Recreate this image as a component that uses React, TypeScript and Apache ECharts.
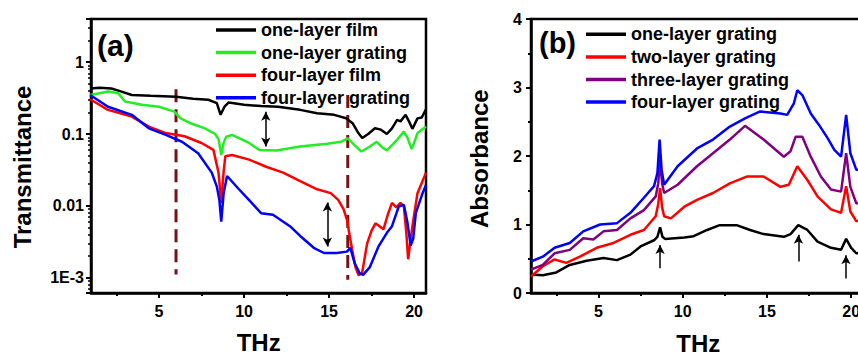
import React, { useEffect, useRef } from "react";
import * as echarts from "echarts";

const FONT = '"Liberation Sans", Arial, Helvetica, sans-serif';

// ---------- Panel (a): transmittance ----------
const legendA = ["one-layer film", "one-layer grating", "four-layer film", "four-layer grating"];
const colorsA = ["#000000", "#22ee22", "#ff0000", "#0000ff"];

const oneLayerFilm: [number, number][] = [
  [0.95, 0.43], [1.5, 0.44], [2.2, 0.43], [2.8, 0.39], [3.4, 0.35], [4.5, 0.34], [6.0, 0.33],
  [7.0, 0.31], [7.9, 0.3], [8.4, 0.27], [8.62, 0.185], [8.85, 0.24], [9.1, 0.275], [10, 0.255],
  [11, 0.245], [12, 0.24], [13.3, 0.217], [14.3, 0.195], [15.3, 0.185], [16, 0.166], [16.4, 0.14],
  [16.7, 0.105], [16.95, 0.088], [17.3, 0.1], [17.7, 0.12], [18.05, 0.115], [18.4, 0.1], [18.7, 0.12],
  [19.0, 0.157], [19.2, 0.15], [19.5, 0.185], [19.7, 0.15], [19.9, 0.118], [20.2, 0.165], [20.45, 0.17],
  [20.7, 0.22],
];
const oneLayerGratingA: [number, number][] = [
  [0.95, 0.35], [1.5, 0.37], [2.0, 0.39], [2.6, 0.37], [3.0, 0.284], [4.0, 0.255], [5.0, 0.24],
  [5.9, 0.205], [6.25, 0.166], [6.9, 0.14], [7.7, 0.12], [8.3, 0.1], [8.5, 0.085], [8.66, 0.051],
  [8.8, 0.075], [8.95, 0.092], [9.3, 0.097], [10.3, 0.075], [10.9, 0.06], [11.9, 0.059], [13.3, 0.067],
  [14.9, 0.073], [15.7, 0.078], [16.1, 0.087], [16.5, 0.07], [16.9, 0.057], [17.4, 0.067], [17.8, 0.078],
  [18.1, 0.066], [18.4, 0.059], [18.7, 0.07], [19.0, 0.083], [19.4, 0.108], [19.6, 0.09], [19.85, 0.062],
  [20.0, 0.075], [20.2, 0.103], [20.7, 0.127],
];
const fourLayerFilm: [number, number][] = [
  [0.95, 0.305], [2.0, 0.217], [3.4, 0.175], [4.4, 0.127], [5.4, 0.103], [6.5, 0.093], [7.5, 0.075],
  [8.2, 0.06], [8.5, 0.029], [8.66, 0.011], [8.8, 0.03], [8.9, 0.049], [9.3, 0.051], [10.3, 0.044],
  [11.3, 0.035], [12.3, 0.029], [13.3, 0.022], [14.3, 0.017], [15.1, 0.015], [15.55, 0.012], [15.85, 0.009],
  [16.05, 0.0064], [16.35, 0.0025], [16.55, 0.0014], [16.74, 0.00108], [16.94, 0.00115], [17.24, 0.003],
  [17.5, 0.0045], [17.73, 0.0057], [18.2, 0.0047], [18.45, 0.0075], [18.7, 0.011], [18.95, 0.0095],
  [19.2, 0.011], [19.4, 0.0098], [19.55, 0.004], [19.65, 0.0018], [19.9, 0.0052], [20.2, 0.015], [20.7, 0.029],
];
const fourLayerGratingA: [number, number][] = [
  [0.95, 0.35], [2.0, 0.24], [3.4, 0.185], [4.4, 0.12], [5.4, 0.097], [6.35, 0.078], [7.3, 0.054],
  [8.1, 0.029], [8.4, 0.0185], [8.55, 0.012], [8.66, 0.006], [8.8, 0.015], [9.0, 0.026], [9.7, 0.017],
  [10.3, 0.012], [11.0, 0.0079], [11.7, 0.0075], [12.7, 0.0052], [13.3, 0.0038], [14.1, 0.0026],
  [14.7, 0.0022], [15.45, 0.0022], [16.05, 0.0023], [16.25, 0.0026], [16.5, 0.0016], [16.8, 0.00115],
  [17.0, 0.00109], [17.4, 0.0014], [17.9, 0.0027], [18.4, 0.0042], [18.7, 0.0052], [19.1, 0.0098],
  [19.4, 0.0103], [19.6, 0.006], [19.8, 0.0028], [19.95, 0.0035], [20.1, 0.0079], [20.5, 0.015], [20.7, 0.0195],
];
const cutLeft: [number, number][] = [[6.0, 0.42], [6.0, 0.0011]];
const cutRight: [number, number][] = [[16.1, 0.35], [16.1, 0.00093]];
const arrowsA: [number, number, number][] = [[11.28, 0.205, 0.067], [14.9, 0.0111, 0.0027]];
const yTickValuesA = [0.001, 0.01, 0.1, 1];
const yTickLabelsA = ["1E-3", "0.01", "0.1", "1"];

// ---------- Panel (b): absorbance ----------
const legendB = ["one-layer grating", "two-layer grating", "three-layer grating", "four-layer grating"];
const colorsB = ["#000000", "#ff0000", "#800080", "#0000ff"];

const oneLayerB: [number, number][] = [
  [1.0, 0.27], [1.7, 0.26], [2.5, 0.3], [3.3, 0.41], [4.3, 0.47], [5.3, 0.51], [6.1, 0.48], [6.9, 0.56],
  [7.5, 0.68], [8.3, 0.77], [8.5, 0.82], [8.66, 0.96], [8.8, 0.82], [8.95, 0.79], [10.1, 0.81],
  [10.65, 0.83], [11.45, 0.92], [12.2, 0.99], [13.2, 0.99], [14.0, 0.92], [14.8, 0.86], [16.0, 0.82],
  [16.4, 0.86], [16.86, 0.99], [17.4, 0.92], [18.0, 0.75], [18.8, 0.66], [19.4, 0.63], [19.7, 0.79],
  [20.0, 0.66], [20.3, 0.58], [20.7, 0.58],
];
const twoLayerB: [number, number][] = [
  [1.0, 0.24], [1.7, 0.39], [2.4, 0.49], [3.1, 0.44], [3.9, 0.53], [4.9, 0.66], [5.9, 0.73], [6.9, 0.85],
  [7.7, 0.92], [8.4, 1.12], [8.55, 1.3], [8.66, 1.53], [8.78, 1.25], [8.9, 1.12], [9.3, 1.09], [10.1, 1.26],
  [10.85, 1.36], [11.8, 1.46], [12.8, 1.6], [13.8, 1.7], [14.8, 1.7], [15.8, 1.55], [16.3, 1.58],
  [16.8, 1.85], [17.4, 1.65], [18.0, 1.41], [18.8, 1.22], [19.4, 1.17], [19.7, 1.56], [19.95, 1.19],
  [20.3, 1.05], [20.7, 1.05],
];
const threeLayerB: [number, number][] = [
  [1.0, 0.34], [1.7, 0.41], [2.4, 0.58], [3.3, 0.63], [4.1, 0.8], [4.7, 0.78], [5.3, 0.9], [6.1, 0.92],
  [6.9, 1.09], [7.7, 1.21], [8.4, 1.41], [8.55, 1.6], [8.66, 1.94], [8.78, 1.6], [8.9, 1.46], [9.7, 1.58],
  [10.85, 1.85], [11.8, 2.04], [12.8, 2.24], [13.7, 2.44], [14.8, 2.24], [16.0, 1.99], [16.4, 2.07],
  [16.7, 2.28], [17.1, 2.28], [17.6, 1.99], [18.2, 1.7], [18.8, 1.51], [19.4, 1.48], [19.7, 2.04],
  [19.95, 1.55], [20.3, 1.31], [20.7, 1.31],
];
const fourLayerB: [number, number][] = [
  [1.0, 0.46], [1.7, 0.53], [2.4, 0.66], [3.3, 0.73], [4.1, 0.9], [5.1, 1.0], [6.1, 1.02], [6.9, 1.17],
  [7.7, 1.39], [8.3, 1.56], [8.5, 1.75], [8.63, 2.24], [8.75, 1.8], [8.9, 1.58], [9.7, 1.85], [10.85, 2.11],
  [11.8, 2.24], [12.8, 2.43], [13.7, 2.55], [14.6, 2.65], [15.8, 2.62], [16.2, 2.6], [16.6, 2.77],
  [16.8, 2.96], [17.1, 2.89], [17.6, 2.62], [18.1, 2.45], [18.6, 2.26], [19.0, 2.09], [19.4, 1.99],
  [19.7, 2.6], [19.95, 2.04], [20.3, 1.8], [20.7, 1.8],
];
const arrowsB: [number, number, number][] = [[8.66, 0.36, 0.7], [16.87, 0.46, 0.85], [19.69, 0.21, 0.55]];

const xTicks = [5, 10, 15, 20];
const xMinorTicks = [2.5, 7.5, 12.5, 17.5];

const labelStyle = { color: "#000", fontSize: 16, fontWeight: "bold", fontFamily: FONT };

function xAxes(min: number, max: number) {
  return [
    {
      type: "value", min, max, position: "bottom",
      axisLine: { show: true, lineStyle: { color: "#000", width: 2.5 } },
      axisTick: { show: true, length: 5, lineStyle: { color: "#000", width: 2 }, customValues: xTicks },
      axisLabel: { ...labelStyle, margin: 10, customValues: xTicks },
      splitLine: { show: false },
    },
    {
      type: "value", min, max, position: "bottom",
      axisLine: { show: false },
      axisTick: { show: true, length: 3, lineStyle: { color: "#000", width: 2 }, customValues: xMinorTicks },
      axisLabel: { show: false },
      splitLine: { show: false },
    },
  ];
}

function lineSeries(name: string, color: string, data: [number, number][], extra: any = {}) {
  return {
    type: "line", name, data, color, showSymbol: false, symbol: "none",
    itemStyle: { color }, lineStyle: { color, width: 2.5 }, z: 3, ...extra,
  };
}

function text(t: string, x: number, y: number, size: number, rotation = 0, align = "center") {
  return {
    type: "text", x, y, rotation, silent: true,
    style: { text: t, fill: "#000", font: `bold ${size}px ${FONT}`, align, verticalAlign: "middle" },
  };
}

function legend(names: string[], left: number, top: number) {
  return {
    orient: "vertical", left, top, padding: 0, itemWidth: 40, itemHeight: 3.5, itemGap: 2.6, icon: "rect",
    selectedMode: false, data: names,
    textStyle: { color: "#000", fontSize: 18, fontWeight: "bold", fontFamily: FONT, lineHeight: 20 },
  };
}

function optionA(): any {
  const arrowData = arrowsA.map(([x, y1, y2]) => [{ coord: [x, y1] }, { coord: [x, y2] }]);
  return {
    animation: false,
    backgroundColor: "#fff",
    grid: { left: 91, top: 19, width: 335, height: 274, show: true, borderColor: "#000", borderWidth: 2.5 },
    legend: legend(legendA, 216, 20),
    xAxis: xAxes(1, 20.7),
    yAxis: {
      type: "log", logBase: 10, min: 6.1e-4, max: 4,
      axisLine: { show: true, lineStyle: { color: "#000", width: 2.5 } },
      axisTick: { show: true, length: 5, lineStyle: { color: "#000", width: 2 } },
      minorTick: { show: true, length: 3, splitNumber: 9, lineStyle: { color: "#000", width: 1.5 } },
      axisLabel: {
        ...labelStyle, margin: 7, showMinLabel: false, showMaxLabel: false,
        formatter: (v: number) => {
          const i = yTickValuesA.findIndex((t) => Math.abs(Math.log10(v) - Math.log10(t)) < 1e-6);
          return i >= 0 ? yTickLabelsA[i] : "";
        },
      },
      splitLine: { show: false },
    },
    graphic: [
      text("(a)", 97, 45, 30, 0, "left"),
      text("Transmittance", 22.5, 167, 24, Math.PI / 2),
      text("THz", 258.7, 342, 24),
    ],
    series: [
      lineSeries(legendA[0], colorsA[0], oneLayerFilm),
      lineSeries(legendA[1], colorsA[1], oneLayerGratingA),
      lineSeries(legendA[2], colorsA[2], fourLayerFilm),
      lineSeries(legendA[3], colorsA[3], fourLayerGratingA),
      {
        type: "line", name: "cut-left", data: cutLeft, symbol: "none", z: 2,
        lineStyle: { color: "#7a1010", width: 3, type: [13, 7] },
        markLine: {
          silent: true, symbol: ["arrow", "arrow"], symbolSize: [7, 9], label: { show: false },
          lineStyle: { color: "#000", width: 1.5, type: "solid" }, data: arrowData,
        },
      },
      {
        type: "line", name: "cut-right", data: cutRight, symbol: "none", z: 2,
        lineStyle: { color: "#7a1010", width: 3, type: [13, 7] },
      },
    ],
  };
}

function optionB(): any {
  const arrowData = arrowsB.map(([x, y1, y2]) => [{ coord: [x, y1] }, { coord: [x, y2] }]);
  return {
    animation: false,
    backgroundColor: "#fff",
    grid: { left: 101, top: 19, width: 332, height: 274, show: true, borderColor: "#000", borderWidth: 2.5 },
    legend: legend(legendB, 156, 24.3),
    xAxis: xAxes(1, 20.7),
    yAxis: {
      type: "value", min: 0, max: 4, interval: 1,
      axisLine: { show: true, lineStyle: { color: "#000", width: 2.5 } },
      axisTick: { show: true, length: 5, lineStyle: { color: "#000", width: 2 } },
      minorTick: { show: true, length: 3, splitNumber: 2, lineStyle: { color: "#000", width: 2 } },
      axisLabel: { ...labelStyle, margin: 9 },
      splitLine: { show: false },
    },
    graphic: [
      text("(b)", 109, 42.5, 29, 0, "left"),
      text("Absorbance", 49.7, 158.7, 24, Math.PI / 2),
      text("THz", 268.3, 343, 24),
    ],
    series: [
      lineSeries(legendB[0], colorsB[0], oneLayerB, {
        markLine: {
          silent: true, symbol: ["none", "arrow"], symbolSize: [7, 9], label: { show: false },
          lineStyle: { color: "#000", width: 1.5, type: "solid" }, data: arrowData,
        },
      }),
      lineSeries(legendB[1], colorsB[1], twoLayerB),
      lineSeries(legendB[2], colorsB[2], threeLayerB),
      lineSeries(legendB[3], colorsB[3], fourLayerB),
    ],
  };
}

function Chart({ option, style }: { option: any; style: React.CSSProperties }) {
  const ref = useRef<HTMLDivElement>(null);
  useEffect(() => {
    if (!ref.current) return;
    const chart = echarts.init(ref.current, null, { renderer: "svg" });
    chart.setOption(option);
    return () => chart.dispose();
  }, []);
  return <div ref={ref} style={style} />;
}

export default function App() {
  return (
    <div style={{ position: "fixed", left: 0, top: 0, width: 858, height: 355, overflow: "hidden", background: "#fff" }}>
      <Chart option={optionA()} style={{ position: "absolute", left: 0, top: 0, width: 430, height: 355 }} />
      <Chart option={optionB()} style={{ position: "absolute", left: 430, top: 0, width: 440, height: 355 }} />
    </div>
  );
}
